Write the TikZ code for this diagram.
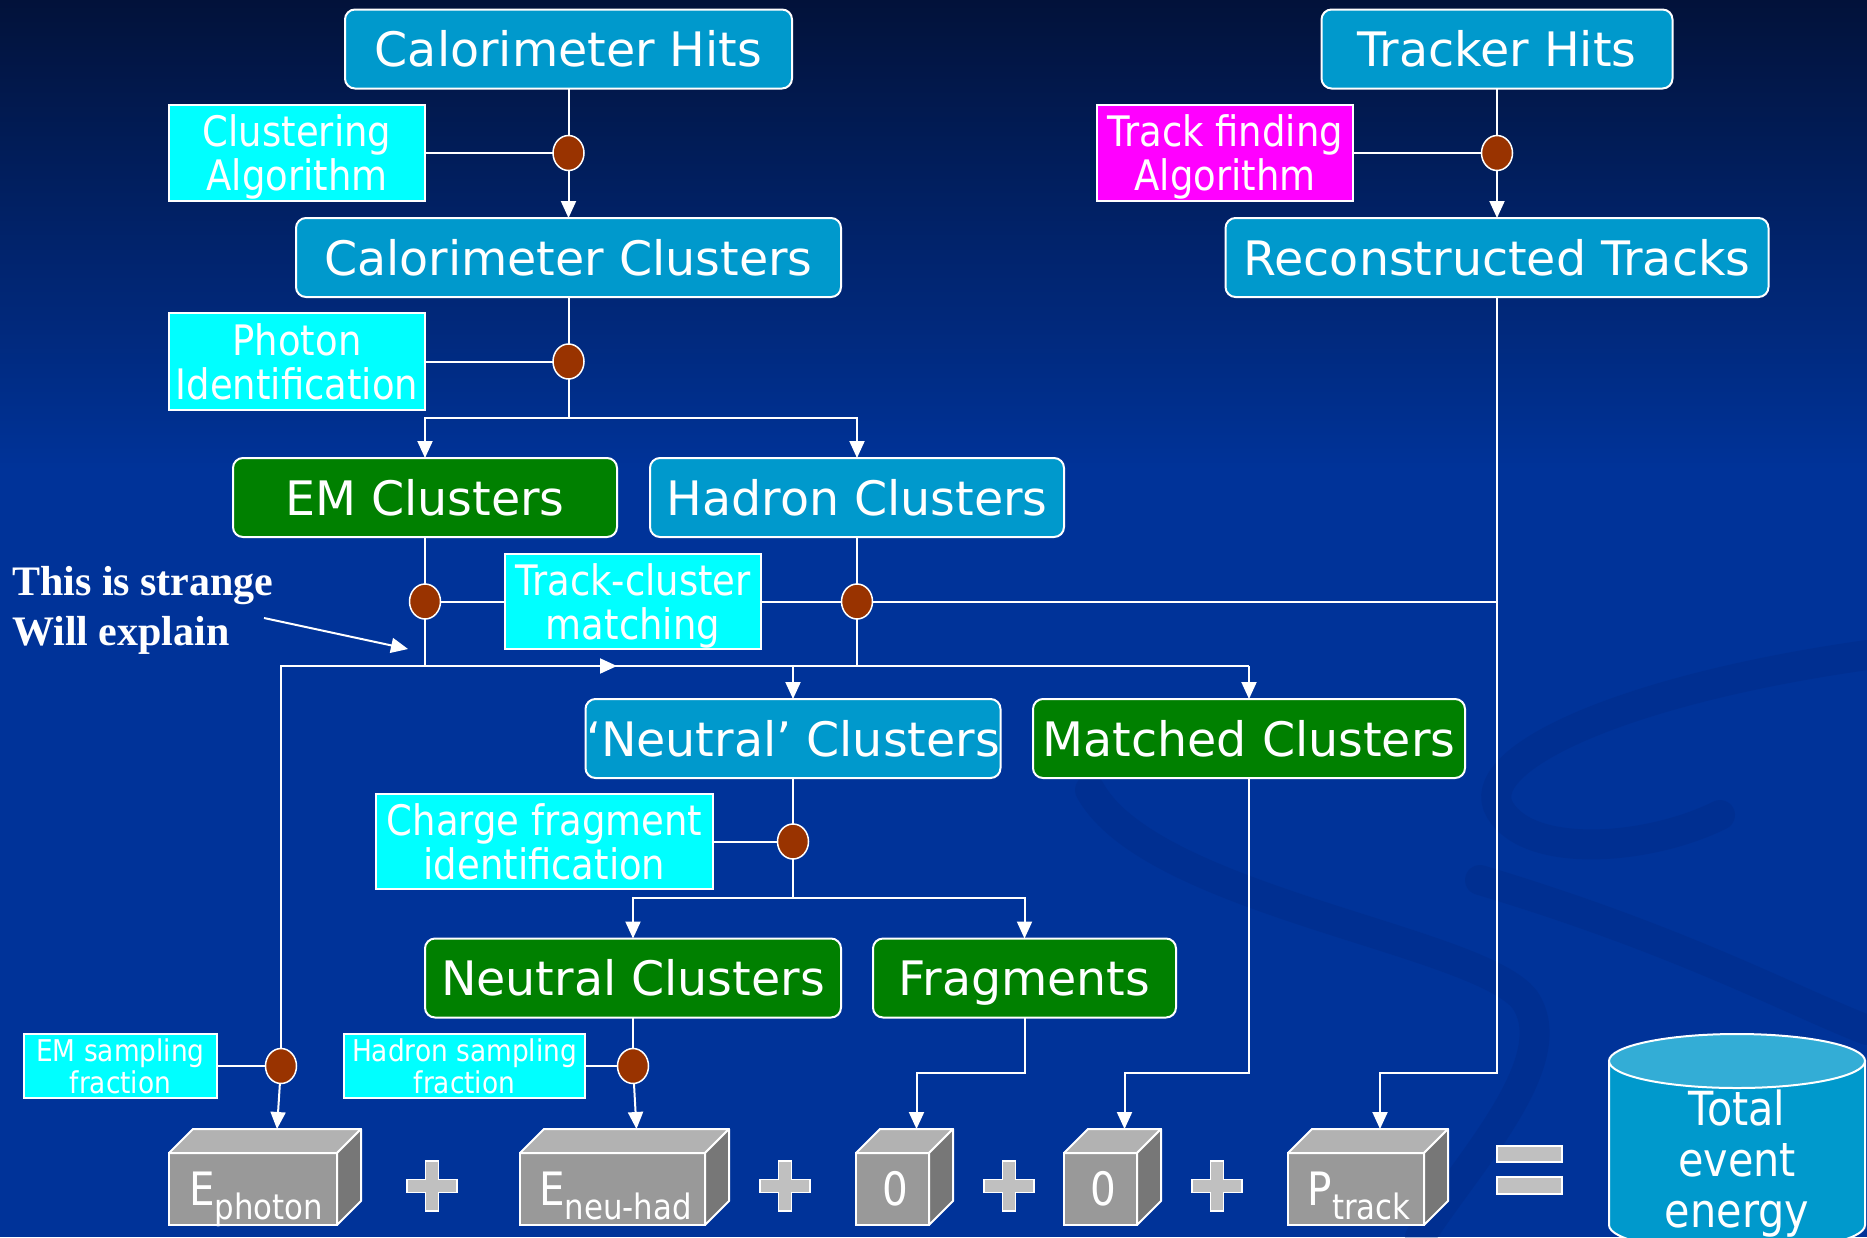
\documentclass[tikz,border=0pt]{standalone}
\usepackage{fontspec}
\setmainfont{DejaVu Sans}
\newfontfamily\narrowfont[FakeStretch=0.88]{DejaVu Sans}
\newfontfamily\notefont{Liberation Serif}
\usetikzlibrary{shapes.geometric,arrows.meta}
\definecolor{boxblue}{RGB}{0,153,204}
\definecolor{boxgreen}{RGB}{0,128,0}
\definecolor{algocyan}{RGB}{0,255,255}
\definecolor{algopink}{RGB}{255,0,255}
\definecolor{dotbrown}{RGB}{153,51,0}
\definecolor{bgtop}{RGB}{2,18,58}
\definecolor{bgblue}{RGB}{0,51,153}
\definecolor{swirl}{RGB}{0,40,128}
\definecolor{cubefront}{RGB}{153,153,153}
\definecolor{cubetop}{RGB}{178,178,178}
\definecolor{cubeside}{RGB}{119,119,119}
\definecolor{signgray}{RGB}{192,192,192}
\definecolor{drumtop}{RGB}{51,173,214}
\newcommand{\lowsub}[1]{\raisebox{-14pt}{\fontsize{35}{35}\selectfont #1}}

\begin{document}
\begin{tikzpicture}[x=1pt,y=-1pt,
    stage/.style={draw=white, line width=2pt, rounded corners=10pt, text=white,
      font=\fontsize{47.5}{57}\selectfont, inner sep=0pt, outer sep=0pt, minimum height=79pt,
      text height=35pt, text depth=0pt},
    calcbox/.style={stage, fill=boxblue},
    donebox/.style={stage, fill=boxgreen},
    algo/.style={draw=white, line width=2pt, fill=algocyan, text=white, align=center,
      inner sep=0pt, outer sep=0pt, minimum height=96pt, minimum width=256pt,
      text depth=0pt, font=\narrowfont\fontsize{42}{44}\selectfont},
    smallalgo/.style={algo, minimum height=64pt, font=\narrowfont\fontsize{30}{32}\selectfont},
    joint/.style={ellipse, draw=white, line width=1.5pt, fill=dotbrown,
      minimum width=31pt, minimum height=35pt, inner sep=0pt, outer sep=0pt},
    link/.style={white, line width=2pt},
    flow/.style={link, -{Triangle[width=15pt,length=17pt]}},
    cube/.style={fill=cubefront, draw=white, line width=2pt, inner sep=0pt, outer sep=0pt,
      minimum height=72pt},
    cubeface/.style={draw=white, line width=2pt, line join=round},
    cubelabel/.style={text=white, inner sep=0pt, font=\narrowfont\fontsize{46}{50}\selectfont},
    plussign/.style={fill=signgray, draw=white, line width=1.5pt},
    swirlband/.style={swirl, line width=30pt, opacity=0.3, line cap=round}]
  \useasboundingbox (0,0) rectangle (1867,1237);
  \clip (0,0) rectangle (1867,1237);
  \fill[bgblue] (0,0) rectangle (1867,1237);
  \shade[top color=bgtop, bottom color=bgblue] (0,0) rectangle (1867,470);
  \draw[swirlband] (1867,655) .. controls (1620,690) and (1470,760) .. (1500,810)
    .. controls (1530,860) and (1650,850) .. (1720,815);
  \draw[swirlband] (1090,790) .. controls (1150,900) and (1480,940) .. (1525,1000)
    .. controls (1565,1060) and (1470,1160) .. (1420,1237);
  \draw[swirlband] (1480,880) .. controls (1680,940) and (1790,1000) .. (1867,1030);

  % top row
  \node[calcbox, minimum width=447pt] (calhits) at (568.5,49)
    {Calorimeter Hits};
  \node[calcbox, minimum width=351pt] (trkhits) at (1497,49)
    {Tracker Hits};
  \node[algo] (clusalgo) at (297,153)
    {Clustering\\Algorithm};
  \node[algo, fill=algopink] (trkalgo) at (1225,153)
    {Track finding\\Algorithm};
  \node[joint] (j1) at (568.5,153) {};
  \node[joint] (j2) at (1497,153) {};
  \node[calcbox, minimum width=545pt] (calclus) at (568.5,257.5)
    {Calorimeter Clusters};
  \node[calcbox, minimum width=543pt] (rectrk) at (1497,257.5)
    {Reconstructed Tracks};
  \node[algo, minimum height=97pt] (photonid) at (297,361.5)
    {Photon\\Identification};
  \node[joint] (j3) at (568.5,361.5) {};
  \coordinate (split1) at (568.5,418);

  % cluster split
  \node[donebox, minimum width=384pt] (emclus) at (425,497.5)
    {EM Clusters};
  \node[calcbox, minimum width=414pt] (hadclus) at (857,497.5)
    {Hadron Clusters};
  \node[algo, minimum height=95pt] (trkmatch) at (633,601.5)
    {Track-cluster\\matching};
  \node[joint] (j4) at (425,601.5) {};
  \node[joint] (j5) at (857,601.5) {};
  \coordinate (merge) at (425,666);
  \coordinate (midtip) at (617,666);
  \node[text=white, align=left, anchor=west, inner sep=0pt,
    font=\notefont\bfseries\fontsize{42}{50}\selectfont] (note) at (12,610)
    {This is strange\\Will explain};
  \coordinate (notetail) at (264,618);
  \coordinate (notetip) at (408,649);

  \node[calcbox, minimum width=415pt] (neutq) at (793,738.5)
    {‘Neutral’ Clusters};
  \node[donebox, minimum width=432pt] (matched) at (1249,738.5)
    {Matched Clusters};
  \node[algo, minimum width=337pt, minimum height=95pt] (chfrag) at (544.5,841.5)
    {Charge fragment\\identification};
  \node[joint] (j6) at (793,841.5) {};
  \coordinate (split2) at (793,898);
  \node[donebox, minimum width=416pt] (neutral) at (633,978)
    {Neutral Clusters};
  \node[donebox, minimum width=303pt] (frags) at (1024.5,978)
    {Fragments};
  \coordinate (lowbend) at (0,1073);

  % sampling fractions
  \node[smallalgo, minimum width=193pt] (emsf) at (120.5,1066)
    {EM sampling\\fraction};
  \node[smallalgo, minimum width=241pt] (hadsf) at (464.5,1066)
    {Hadron sampling\\fraction};
  \node[joint] (j7) at (281,1066) {};
  \node[joint] (j8) at (633,1066) {};

  % energy sum
  \foreach \nm/\xl/\xr/\face in {ephoton/169/337/{E\lowsub{photon}},
      eneuhad/520/705/{E\lowsub{neu-had}}, zeroa/856/929/0, zerob/1064/1137/0,
      ptrack/1288/1424/{P\lowsub{track}}} {
    \pgfmathsetmacro{\cubew}{\xr-\xl}
    \node[cube, minimum width=\cubew pt] (\nm) at ({(\xl+\xr)/2},1189) {};
    \filldraw[cubeface, fill=cubetop] (\nm.north west) -- ([xshift=24pt,yshift=24pt]\nm.north west)
      -- ([xshift=24pt,yshift=24pt]\nm.north east) -- (\nm.north east) -- cycle;
    \filldraw[cubeface, fill=cubeside] (\nm.north east) -- ([xshift=24pt,yshift=24pt]\nm.north east)
      -- ([xshift=24pt,yshift=24pt]\nm.south east) -- (\nm.south east) -- cycle;
    \node[cubelabel, anchor=base] (\nm-lbl) at ([xshift=3pt,yshift=-16pt]\nm.center)
      {\face};
    \coordinate (\nm-in) at ([xshift=24pt,yshift=24pt]\nm.north);
  }
  \foreach \px in {432,785,1009,1217}
    \filldraw[plussign, shift={(\px,1186)}] (-6.5,-25) -- (6.5,-25) -- (6.5,-6.5) -- (25,-6.5)
      -- (25,6.5) -- (6.5,6.5) -- (6.5,25) -- (-6.5,25) -- (-6.5,6.5) -- (-25,6.5)
      -- (-25,-6.5) -- (-6.5,-6.5) -- cycle;
  \filldraw[plussign] (1497,1146) rectangle (1562,1162);
  \filldraw[plussign] (1497,1177) rectangle (1562,1194);
  \filldraw[fill=boxblue, draw=white, line width=2pt] (1609,1061) -- (1609,1225)
    arc[start angle=180, end angle=360, x radius=128pt, y radius=27pt] -- (1865,1061) -- cycle;
  \filldraw[fill=drumtop, draw=white, line width=2pt] (1737,1061) ellipse [x radius=128pt, y radius=27pt];
  \node[text=white, align=center, anchor=north, inner sep=0pt,
    font=\narrowfont\fontsize{47}{51}\selectfont] (total) at (1737,1090)
    {Total\\event\\energy};

  % connectors
  \draw[link] (calhits) -- (j1);
  \draw[flow] (j1) -- (calclus);
  \draw[link] (clusalgo) -- (j1);
  \draw[link] (trkhits) -- (j2);
  \draw[flow] (j2) -- (rectrk);
  \draw[link] (trkalgo) -- (j2);
  \draw[link] (calclus) -- (j3) -- (split1);
  \draw[link] (photonid) -- (j3);
  \draw[flow] (split1) -| (emclus);
  \draw[flow] (split1) -| (hadclus);
  \draw[link] (emclus) -- (j4) -- (merge);
  \draw[link] (hadclus) -- (j5) -- (j5 |- merge);
  \draw[link] (j4) -- (trkmatch) -- (j5) -- (j5 -| rectrk);
  \draw[link] (merge) -- (merge -| matched);
  \draw[flow] (merge) -- (midtip);
  \draw[flow] (merge -| neutq) -- (neutq);
  \draw[flow] (merge -| matched) -- (matched);
  \draw[link] (merge) -| (j7);
  \draw[flow] (notetail) -- (notetip);
  \draw[link] (neutq) -- (j6) -- (split2);
  \draw[link] (chfrag) -- (j6);
  \draw[flow] (split2) -| (neutral);
  \draw[flow] (split2) -| (frags);
  \draw[link] (emsf) -- (j7);
  \draw[flow] (j7) -- (ephoton-in);
  \draw[link] (neutral) -- (j8);
  \draw[link] (hadsf) -- (j8);
  \draw[flow] (j8) -- (eneuhad-in);
  \draw[flow] (frags) -- (frags |- lowbend) -| (zeroa-in);
  \draw[flow] (matched) -- (matched |- lowbend) -| (zerob-in);
  \draw[flow] (rectrk) -- (rectrk |- lowbend) -| (ptrack-in);
\end{tikzpicture}
\end{document}
